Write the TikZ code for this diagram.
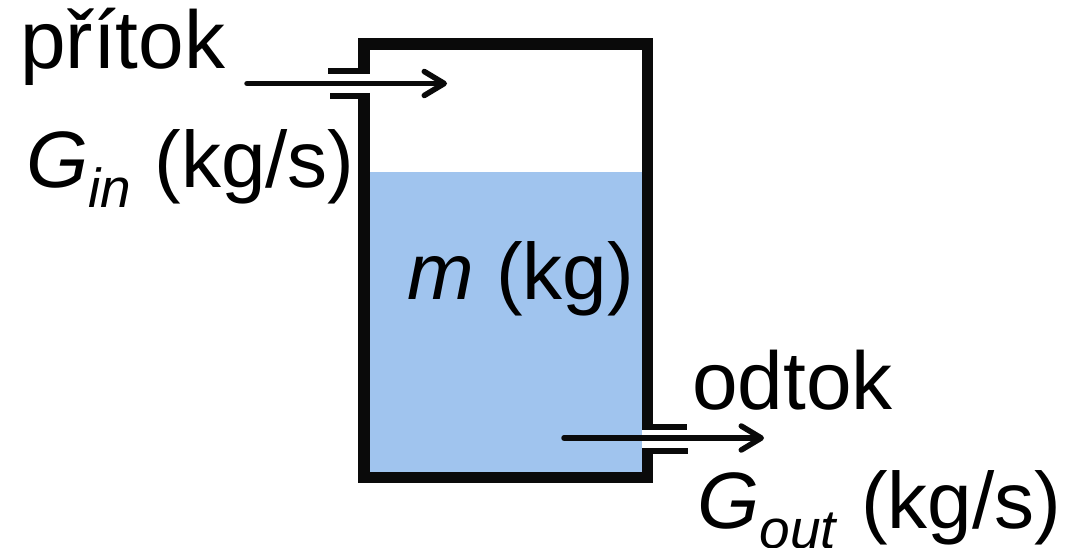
\documentclass[tikz,border=0pt]{standalone}
\usepackage{fontspec}
\setmainfont{Liberation Sans}
\usetikzlibrary{arrows.meta}
\newcommand{\lowsub}[1]{\raisebox{-20pt}{\fontsize{55}{55}\selectfont\textit{#1}}}
\tikzset{
 px/.style={x=1pt,y=-1pt},
 lbl/.style={inner sep=0pt,font=\fontsize{80}{80}\selectfont,anchor=base west},
 lblw/.style={inner sep=0pt,font=\fontsize{82}{82}\selectfont,anchor=base west},
 wall/.style={line width=11.5pt,line cap=butt,line join=miter},
 pipe/.style={line width=6pt,line cap=butt},
 flow/.style={line width=5.5pt,line cap=round,-{Straight Barb[round,length=20pt,width=24pt,line width=5.5pt]}}
}
\definecolor{water}{RGB}{160,196,238}
\definecolor{ink}{RGB}{10,10,10}
\begin{document}
\begin{tikzpicture}[px]
\useasboundingbox (0,0) rectangle (1070,548);
\fill[fill=white] (0,0) rectangle (1070,548);
\coordinate (wl) at (370,172);
\coordinate (wr) at (642,472);
\fill[fill=water] (wl) rectangle (wr);
\draw[wall,ink] (364.2,74) -- (364.2,44) -- (647.5,44) -- (647.5,430);
\draw[wall,ink] (364.2,93) -- (364.2,477.5) -- (647.5,477.5) -- (647.5,448);
\draw[pipe,ink] (328,71) -- (370,71);
\draw[pipe,ink] (330,96) -- (370,96);
\draw[pipe,ink] (642,427) -- (687,427);
\draw[pipe,ink] (648,451) -- (688,451);
\coordinate (a1) at (247,83.5);
\coordinate (a2) at (447,83.5);
\coordinate (b1) at (564,438);
\coordinate (b2) at (764,438);
\draw[flow,ink] (a1) -- (a2);
\draw[flow,ink] (b1) -- (b2);
\node[lblw] (pritok) at (20,69) {přítok};
\node[lbl] (gin) at (26,188) {\textit{G}\lowsub{in}\hspace{1pt} (kg/s)};
\node[lbl] (m) at (407,299) {\textit{m} (kg)};
\node[lblw] (odtok) at (692,409) {odtok};
\node[lbl] (gout) at (697,528) {\textit{G}\lowsub{out}\hspace{1pt} (kg/s)};
\end{tikzpicture}
\end{document}
